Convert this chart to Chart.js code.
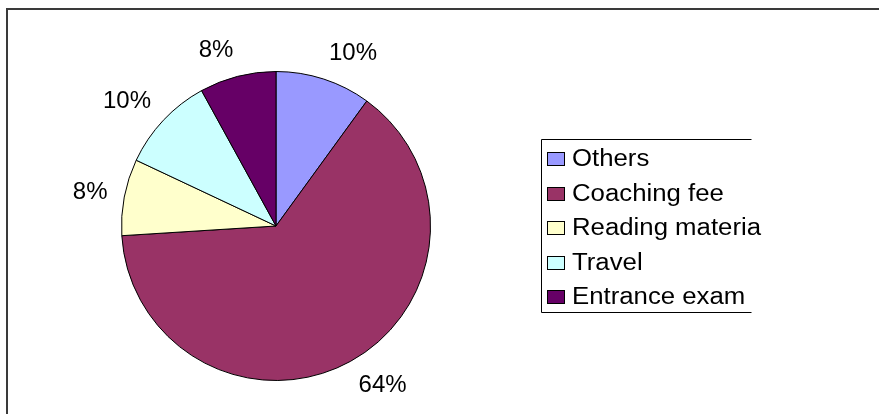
<!DOCTYPE html>
<html>
<head>
<meta charset="utf-8">
<script src="https://cdn.jsdelivr.net/npm/chart.js@4/dist/chart.umd.min.js"></script>
<style>
  html, body { margin: 0; padding: 0; background: #fff; }
  #chart { display: block; }
</style>
</head>
<body>
<canvas id="chart" width="879" height="414"></canvas>
<script>
const categories = ['Others', 'Coaching fee', 'Reading materia', 'Travel', 'Entrance exam'];
const shares = [10, 64, 8, 10, 8];
const sliceColors = ['#9999FF', '#993366', '#FFFFCC', '#CCFFFF', '#660066'];

const FONT = '"Liberation Sans", Arial, sans-serif';

// outer frame, only the left and top edges sit inside the canvas
const framePlugin = {
    id: 'frame',
    beforeDraw(chart) {
        const ctx = chart.ctx;
        ctx.save();
        ctx.strokeStyle = '#3a3a3a';
        ctx.lineWidth = 2;
        ctx.beginPath();
        ctx.moveTo(7, chart.height + 2);
        ctx.lineTo(7, 9);
        ctx.lineTo(chart.width + 2, 9);
        ctx.stroke();
        ctx.restore();
    }
};

// percentage labels just outside each slice
const sliceLabels = {
    id: 'sliceLabels',
    afterDatasetsDraw(chart) {
        const ctx = chart.ctx;
        const meta = chart.getDatasetMeta(0);
        const total = shares.reduce((a, b) => a + b, 0);
        ctx.save();
        ctx.font = '24px ' + FONT;
        ctx.fillStyle = '#000';
        ctx.textAlign = 'center';
        ctx.textBaseline = 'middle';
        meta.data.forEach((arc, i) => {
            const mid = (arc.startAngle + arc.endAngle) / 2;
            const r = arc.outerRadius + 17;
            const ax = arc.x + Math.cos(mid) * r;
            const ay = arc.y + Math.sin(mid) * r;
            const text = Math.round(shares[i] / total * 100) + '%';
            const w = ctx.measureText(text).width;
            const cx = ax + Math.sign(Math.cos(mid)) * w / 2;
            const cy = ay + Math.sin(mid) * 10;
            ctx.fillText(text, cx, cy);
        });
        ctx.restore();
    }
};

// boxed legend on the right (right edge of the box is cut off)
const legendBox = {
    id: 'legendBox',
    afterDraw(chart) {
        const ctx = chart.ctx;
        const left = 541.5, top = 139.5, right = 751.5, bottom = 312.5;
        ctx.save();
        ctx.strokeStyle = '#000';
        ctx.lineWidth = 1;
        ctx.beginPath();
        ctx.moveTo(right, top);
        ctx.lineTo(left, top);
        ctx.lineTo(left, bottom);
        ctx.lineTo(right, bottom);
        ctx.stroke();

        ctx.font = '23px ' + FONT;
        ctx.textBaseline = 'middle';
        categories.forEach((name, i) => {
            const cy = Math.round(159 + i * 34.6);
            ctx.fillStyle = sliceColors[i];
            ctx.fillRect(547, cy - 6, 17, 13);
            ctx.strokeStyle = '#000';
            ctx.strokeRect(547.5, cy - 6.5, 17, 13);
            // legend text is set slightly wide
            ctx.save();
            ctx.translate(572, cy + 1);
            ctx.scale(1.12, 1);
            ctx.fillStyle = '#000';
            ctx.fillText(name, 0, 0);
            ctx.restore();
        });
        ctx.restore();
    }
};

new Chart(document.getElementById('chart'), {
    type: 'pie',
    data: {
        labels: categories,
        datasets: [{
            data: shares,
            backgroundColor: sliceColors,
            borderColor: '#000',
            borderWidth: 1
        }]
    },
    options: {
        responsive: false,
        animation: false,
        layout: {
            padding: { left: 121, right: 448, top: 71, bottom: 33 }
        },
        plugins: {
            legend: { display: false },
            tooltip: { enabled: false }
        }
    },
    plugins: [framePlugin, sliceLabels, legendBox]
});
</script>
</body>
</html>
